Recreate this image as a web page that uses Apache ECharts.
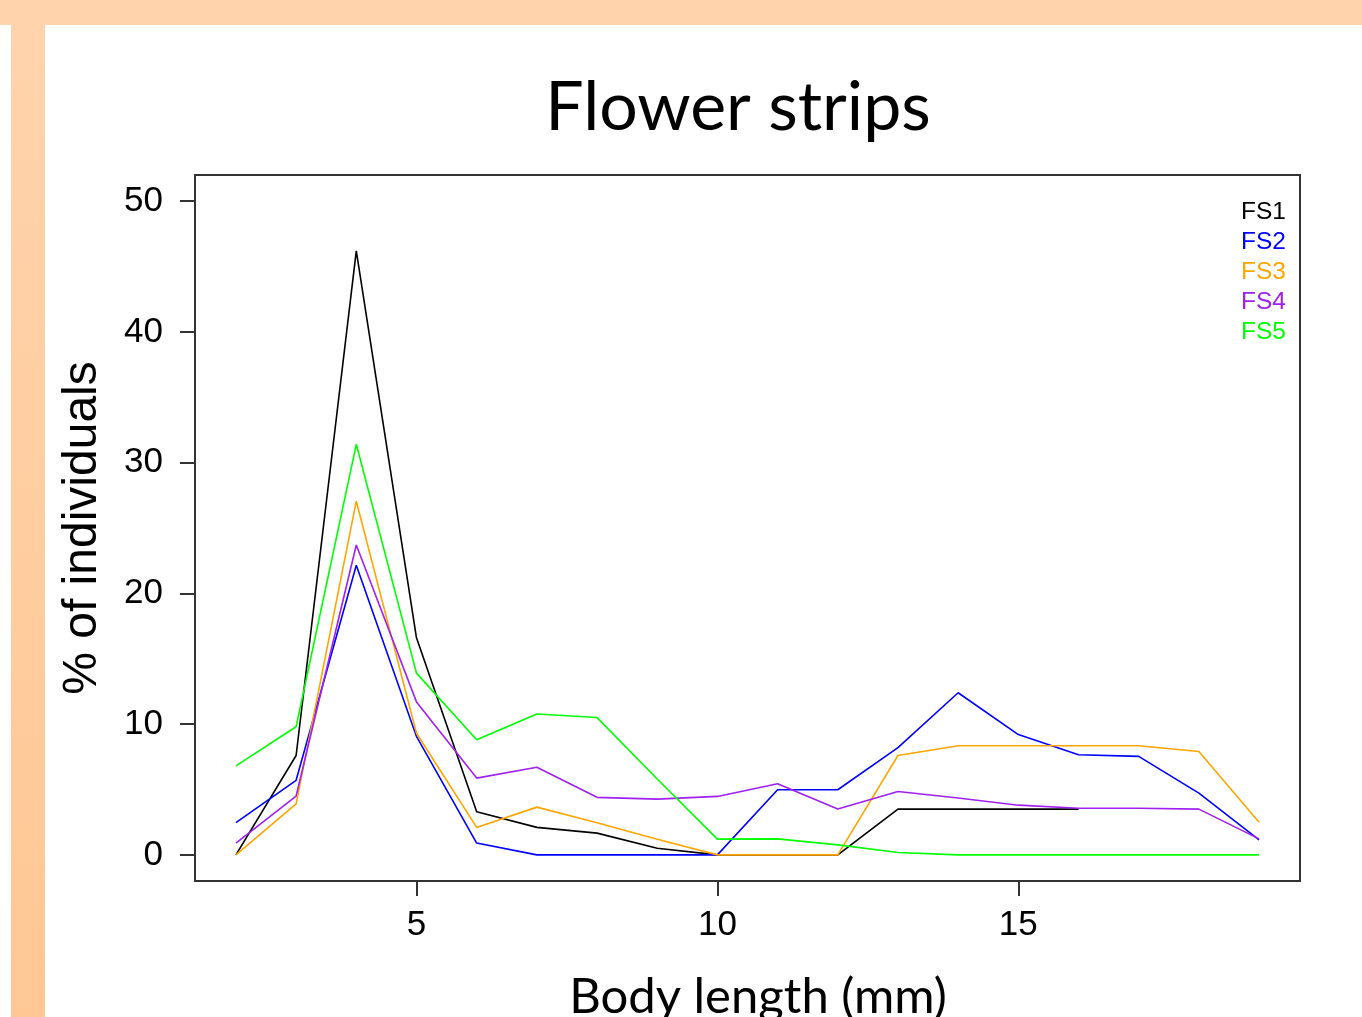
<!DOCTYPE html>
<html>
<head>
<meta charset="utf-8">
<script src="https://cdn.jsdelivr.net/npm/echarts@6/dist/echarts.min.js"></script>
<style>
html,body{margin:0;padding:0;background:#fff;}
#chart{width:1362px;height:1017px;}
</style>
</head>
<body>
<div id="chart"></div>
<script>
// Body length categories (mm)
const bodyLength = [2,3,4,5,6,7,8,9,10,11,12,13,14,15,16,17,18,19];
// % of individuals per flower strip
const FS1 = [0, 7.6, 46.2, 16.6, 3.3, 2.1, 1.66, 0.5, 0, 0, 0, 3.5, 3.5, 3.5, 3.5];
const FS2 = [2.47, 5.7, 22.15, 9.06, 0.9, 0, 0, 0, 0, 4.98, 4.98, 8.2, 12.4, 9.2, 7.66, 7.53, 4.72, 1.15];
const FS3 = [0, 3.9, 27.05, 9.3, 2.1, 3.65, 2.45, 1.2, 0, 0, 0, 7.6, 8.35, 8.35, 8.35, 8.35, 7.9, 2.5];
const FS4 = [0.9, 4.5, 23.7, 11.7, 5.87, 6.7, 4.4, 4.26, 4.47, 5.44, 3.5, 4.85, 4.35, 3.8, 3.57, 3.57, 3.5, 1.22];
const FS5 = [6.8, 9.8, 31.4, 13.9, 8.8, 10.77, 10.5, 5.8, 1.2, 1.22, 0.76, 0.18, 0, 0, 0, 0, 0, 0];
const xTicks = [5, 10, 15];
const yTicks = [0, 10, 20, 30, 40, 50];
const seriesNames = ['FS1','FS2','FS3','FS4','FS5'];
const seriesColors = ['#000000','#0000FF','#FFA500','#A020F0','#00FF00'];

const allValues = [FS1, FS2, FS3, FS4, FS5];
const chart = echarts.init(document.getElementById('chart'));

const series = allValues.map((vals, i) => ({
  name: seriesNames[i],
  type: 'line',
  symbol: 'none',
  data: vals.map((v, j) => [bodyLength[j], v]),
  lineStyle: { color: seriesColors[i], width: 1.6 },
  itemStyle: { color: seriesColors[i] },
  animation: false
}));

chart.setOption({
  backgroundColor: '#ffffff',
  animation: false,
  graphic: [
    { type: 'rect', shape: { x: 0, y: 0, width: 1362, height: 25 }, style: { fill: '#FFD3AC' }, silent: true },
    { type: 'rect', shape: { x: 11, y: 25, width: 34, height: 992 },
      style: { fill: new echarts.graphic.LinearGradient(0, 0, 0, 1, [
        { offset: 0, color: '#FFD3AC' }, { offset: 1, color: '#FFC794' }]) }, silent: true }
  ],
  title: {
    text: 'Flower strips',
    left: 733,
    textAlign: 'center',
    top: 69,
    textStyle: { fontFamily: 'Lato', fontSize: 68, fontWeight: 'normal', color: '#000' }
  },
  legend: {
    orient: 'vertical',
    right: 71,
    top: 193,
    itemWidth: 0,
    itemHeight: 0,
    itemGap: 2,
    icon: 'rect',
    data: seriesNames.map((n, i) => ({ name: n, textStyle: { color: seriesColors[i] } })),
    textStyle: { fontFamily: 'Liberation Sans', fontSize: 24.5, lineHeight: 28, padding: [0, 0, 0, -5] }
  },
  grid: {
    left: 195, right: 62, top: 175, bottom: 136,
    outerBoundsMode: 'none',
    containLabel: false,
    show: true, borderColor: '#333', borderWidth: 2, backgroundColor: 'transparent'
  },
  xAxis: {
    type: 'value',
    min: 1.32, max: 19.68,
    name: 'Body length (mm)',
    nameLocation: 'middle',
    nameGap: 92,
    nameTextStyle: { fontFamily: 'Lato', fontSize: 49, color: '#000', padding: [0, 0, 0, 21] },
    axisLine: { show: false, onZero: false },
    splitLine: { show: false },
    axisTick: { show: true, inside: false, length: 15, customValues: xTicks, lineStyle: { color: '#333', width: 2 } },
    axisLabel: { customValues: xTicks, margin: 27, fontFamily: 'Liberation Sans', fontSize: 35, color: '#000' }
  },
  yAxis: {
    type: 'value',
    min: -2, max: 52,
    name: '% of individuals',
    nameLocation: 'middle',
    nameGap: 88,
    nameTextStyle: { fontFamily: 'Liberation Sans', fontSize: 48, color: '#000' },
    axisLine: { show: false, onZero: false },
    splitLine: { show: false },
    axisTick: { show: true, inside: false, length: 15, customValues: yTicks, lineStyle: { color: '#333', width: 2 } },
    axisLabel: { customValues: yTicks, margin: 32, fontFamily: 'Liberation Sans', fontSize: 35, color: '#000' }
  },
  series: series
});
</script>
</body>
</html>
